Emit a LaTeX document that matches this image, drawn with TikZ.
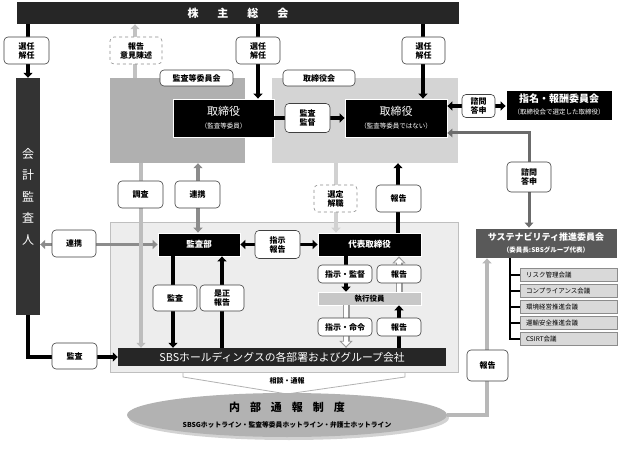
\documentclass[tikz,border=0pt]{standalone}
\usepackage{fontspec}
\setmainfont{Noto Sans CJK JP}
\usetikzlibrary{arrows.meta,shadows,shapes.geometric}
\begin{document}
\begin{tikzpicture}[x=1pt,y=-1pt,
  lb/.style={draw=black!75, line width=0.6pt, rounded corners=4pt, fill=white, inner sep=0pt, align=center, font=\fontsize{8}{9}\selectfont\bfseries},
  dlb/.style={lb, dashed, draw=black!45},
  blk/.style={fill=black, text=white, inner sep=0pt, align=center, draw=white, line width=0.8pt},
  tip/.style={-{Triangle[width=9pt,length=5pt]}},
  dtip/.style={{Triangle[width=9pt,length=5pt]}-{Triangle[width=9pt,length=5pt]}},
  barr/.style={line width=3.5pt, black, tip},
  bdarr/.style={line width=3.5pt, black, dtip},
  garr/.style={line width=3.5pt, tip},
  holl/.style={draw=black!40, line width=7pt, -{Triangle[width=13pt,length=7pt]},
     postaction={draw=white, line width=4.4pt, shorten >=1.7pt, -{Triangle[width=8.5pt,length=4.5pt]}}},
  itm/.style={fill=black!15, draw=black!45, line width=0.5pt, minimum width=97pt, minimum height=13pt, inner sep=0pt, inner xsep=6pt, text width=85pt, align=left, font=\fontsize{6.5}{7}\selectfont},
]
\useasboundingbox (0,0) rectangle (624,449);
\fill[white] (0,0) rectangle (624,449);

% big frames
\node[fill=black!85, minimum width=442pt, minimum height=22pt, inner sep=0pt, text=white, font=\fontsize{11}{12}\selectfont\bfseries] (sh) at (238,13) {株\hspace{19pt}主\hspace{19pt}総\hspace{19pt}会};
\node[fill=black!80, minimum width=24pt, minimum height=237pt, inner sep=0pt, text=white, align=center, font=\fontsize{12}{21.5}\selectfont] (kaikei) at (28,196.5) {会\\計\\監\\査\\人};
\node[fill=black!31, minimum width=135pt, minimum height=85pt, inner sep=0pt] (kansaBox) at (177.5,120.5) {};
\node[fill=black!17, minimum width=186pt, minimum height=85pt, inner sep=0pt] (torikaiBox) at (365,120.5) {};

% consultation arrow shape (behind region)
\draw[fill=white, draw=black!30, line width=0.8pt] (183,366) -- (405,366) -- (405,377) -- (287,394) -- (183,377) -- cycle;
\node[fill=black!7, draw=black!25, line width=0.6pt, minimum width=348pt, minimum height=150pt, inner sep=0pt] (region) at (284,297) {};
\node[font=\fontsize{7}{8}\selectfont\bfseries, inner sep=1pt] (soudan) at (287,381) {相談・通報};
\node[ellipse, fill=black!30, minimum width=320pt, minimum height=44pt, inner sep=0pt, drop shadow={opacity=0.35, shadow xshift=2pt, shadow yshift=-3pt}, align=center] (ell) at (287,415) {};
\node[font=\fontsize{11}{12}\selectfont\bfseries, inner sep=0pt] (ellT) at (287,407) {内\hspace{10pt}部\hspace{10pt}通\hspace{10pt}報\hspace{10pt}制\hspace{10pt}度};
\node[font=\fontsize{6.8}{7.5}\selectfont\bfseries, inner sep=0pt] (ellS) at (287,425) {SBSGホットライン・監査等委員ホットライン・弁護士ホットライン};

% black boxes
\node[blk, minimum width=101pt, minimum height=38pt] (torA) at (223.5,118) {{\fontsize{11}{13}\selectfont 取締役}\\[1pt]{\fontsize{6.5}{7}\selectfont （監査等委員）}};
\node[blk, minimum width=102pt, minimum height=38pt] (torB) at (396,118) {{\fontsize{11}{13}\selectfont 取締役}\\[1pt]{\fontsize{6.5}{7}\selectfont （監査等委員ではない）}};
\node[blk, minimum width=106pt, minimum height=30pt] (shimei) at (559,105) {{\fontsize{10}{11}\selectfont\bfseries 指名・報酬委員会}\\{\fontsize{6.5}{7}\selectfont （取締役会で選定した取締役）}};
\node[blk, fill=black!65, minimum width=142pt, minimum height=30pt] (sust) at (546,243) {{\fontsize{9}{10}\selectfont\bfseries サステナビリティ推進委員会}\\{\fontsize{6.5}{7}\selectfont\bfseries （委員長:SBSグループ代表）}};
\node[blk, minimum width=82pt, minimum height=23pt, font=\fontsize{8.5}{9}\selectfont\bfseries] (kansabu) at (199,244.5) {監査部};
\node[blk, minimum width=103pt, minimum height=23pt, font=\fontsize{8.5}{9}\selectfont\bfseries] (daihyo) at (369.5,244.5) {代表取締役};
\node[fill=black!22, draw=white, line width=0.6pt, minimum width=103pt, minimum height=13pt, inner sep=0pt, font=\fontsize{7.5}{8}\selectfont\bfseries] (shikkou) at (369.5,298.5) {執行役員};
\node[fill=black!85, minimum width=328pt, minimum height=18pt, inner sep=0pt, text=white, font=\fontsize{10.8}{12}\selectfont] (sbs) at (282,357) {SBSホールディングスの各部署およびグループ会社};

% sub list
\node[itm] (it1) at (568.5,275) {リスク管理会議};
\node[itm] (it2) at (568.5,291) {コンプライアンス会議};
\node[itm] (it3) at (568.5,307) {環境経営推進会議};
\node[itm] (it4) at (568.5,323) {運輸安全推進会議};
\node[itm] (it5) at (568.5,339) {CSIRT会議};
\draw[line width=1.3pt] (sust.south -| 510,0) |- (it5.west);
\foreach \i in {1,2,3,4} \draw[line width=1.3pt] (it\i.west -| 510,0) -- (it\i.west);

% connectors
\draw[barr] (sh.south -| 28,0) -- (kaikei.north);
\draw[barr] (sh.south -| 258,0) -- (torA.north -| 258,0);
\draw[barr] (sh.south -| 423,0) -- (torB.north -| 423,0);
\draw[garr, black!24] (kansaBox.north -| 135,0) -- (sh.south -| 135,0);
\draw[barr] (torA.east) -- (torB.west);
\draw[bdarr] (torB.east |- 0,106) -- (shimei.west |- 0,106);
\draw[line width=3pt, black!58, {Triangle[width=8.5pt,length=5pt]}-{Triangle[width=8.5pt,length=5pt]}] (torB.east |- 0,133) -| (sust.north -| 529,0);
\draw[line width=3.5pt, black!45, dtip] (kaikei.east |- kansabu.west) -- (kansabu.west);
\draw[line width=3.5pt, black!45, dtip] (kansaBox.south -| 198,0) -- (kansabu.north -| 198,0);
\draw[garr, black!26] (kansaBox.south -| 141,0) -- (sbs.north -| 141,0);
\draw[bdarr] (kansabu.east) -- (daihyo.west);
\draw[garr, black!18] (torikaiBox.south -| 336,0) -- (daihyo.north -| 336,0);
\draw[barr] (daihyo.north -| 398,0) -- (torikaiBox.south -| 398,0);
\draw[barr] (daihyo.south -| 346,0) -- (shikkou.north -| 346,0);
\draw[holl] (shikkou.north -| 399,0) -- (daihyo.south -| 399,0);
\draw[holl] (shikkou.south -| 346,0) -- (sbs.north -| 346,0);
\draw[barr] (sbs.north -| 399,0) -- (shikkou.south -| 399,0);
\draw[barr] (kansabu.south -| 173,0) -- (sbs.north -| 173,0);
\draw[barr] (sbs.north -| 222,0) -- (kansabu.south -| 222,0);
\draw[barr, line width=4pt] (kaikei.south) |- (sbs.west);
\draw[garr, black!28, line width=4pt] (ell.east) -| (sust.south -| 487,0);

% labels
\node[lb, minimum width=45pt, minimum height=27pt] (l1) at (26.5,50.5) {選任\\解任};
\node[dlb, minimum width=52pt, minimum height=27pt] (l2) at (136,50.5) {報告\\意見陳述};
\node[lb, minimum width=44pt, minimum height=27pt] (l3) at (258,50.5) {選任\\解任};
\node[lb, minimum width=43pt, minimum height=27pt] (l4) at (423.5,50.5) {選任\\解任};
\node[lb, minimum width=73pt, minimum height=16pt] (l5) at (196.5,78) {監査等委員会};
\node[lb, minimum width=72pt, minimum height=16pt] (l6) at (319,78) {取締役会};
\node[lb, minimum width=45pt, minimum height=29pt] (l7) at (307.5,118) {監査\\監督};
\node[lb, minimum width=33pt, minimum height=23pt] (l8) at (478.5,106) {諮問\\答申};
\node[lb, minimum width=44pt, minimum height=30pt] (l9) at (529,177) {諮問\\答申};
\node[lb, minimum width=44pt, minimum height=27pt] (l10) at (74,243.5) {連携};
\node[lb, minimum width=45pt, minimum height=27pt] (l11) at (140.5,194.5) {調査};
\node[lb, minimum width=45pt, minimum height=27pt] (l12) at (197.5,194.5) {連携};
\node[lb, minimum width=45pt, minimum height=28pt] (l13) at (277.5,244.5) {指示\\報告};
\node[dlb, minimum width=43pt, minimum height=27pt] (l14) at (335.5,198.5) {選定\\解職};
\node[lb, minimum width=45pt, minimum height=27pt] (l15) at (398.5,198.5) {報告};
\node[lb, minimum width=54pt, minimum height=18pt] (l16) at (345,274) {指示・監督};
\node[lb, minimum width=44pt, minimum height=18pt] (l17) at (399,274) {報告};
\node[lb, minimum width=54pt, minimum height=18pt] (l18) at (345,327) {指示・命令};
\node[lb, minimum width=44pt, minimum height=18pt] (l19) at (399,327) {報告};
\node[lb, minimum width=44pt, minimum height=26pt] (l20) at (175,298) {監査};
\node[lb, minimum width=44pt, minimum height=26pt] (l21) at (222,298) {是正\\報告};
\node[lb, minimum width=45pt, minimum height=26pt] (l22) at (74.5,356) {監査};
\node[lb, minimum width=41pt, minimum height=31pt] (l23) at (487.5,365.5) {報告};
\end{tikzpicture}
\end{document}
